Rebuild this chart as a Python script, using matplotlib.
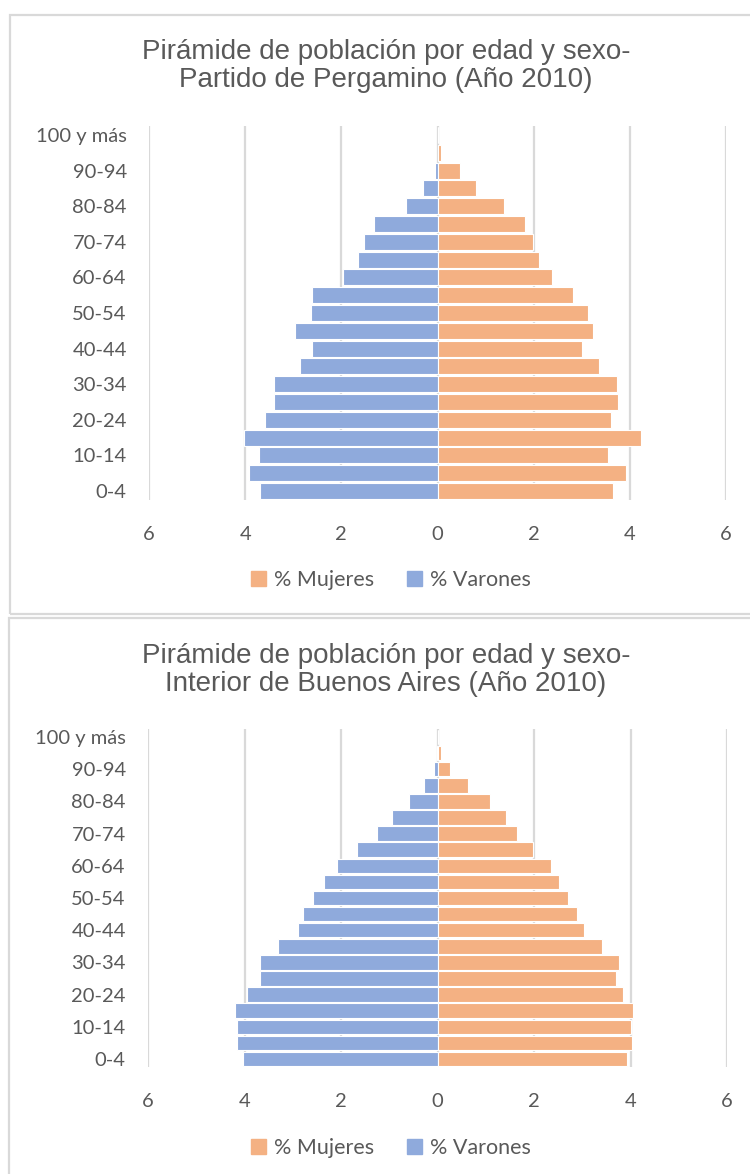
import matplotlib
matplotlib.use("Agg")
import matplotlib.pyplot as plt
from matplotlib.patches import Rectangle, Patch

W, H = 750, 1174

grupos = ["0-4", "5-9", "10-14", "15-19", "20-24", "25-29", "30-34", "35-39",
          "40-44", "45-49", "50-54", "55-59", "60-64", "65-69", "70-74",
          "75-79", "80-84", "85-89", "90-94", "95-99", "100 y más"]

# Partido de Pergamino
varones_perg = [3.69, 3.93, 3.71, 4.02, 3.58, 3.39, 3.39, 2.85, 2.61, 2.96, 2.64,
                2.61, 1.96, 1.66, 1.52, 1.33, 0.65, 0.30, 0.06, 0.0, 0.0]
mujeres_perg = [3.65, 3.92, 3.55, 4.24, 3.61, 3.75, 3.73, 3.35, 3.01, 3.23, 3.12,
                2.82, 2.38, 2.11, 1.98, 1.82, 1.39, 0.80, 0.46, 0.08, 0.01]

# Interior de Buenos Aires
varones_int = [4.04, 4.16, 4.16, 4.19, 3.95, 3.67, 3.67, 3.30, 2.90, 2.78, 2.57,
               2.35, 2.08, 1.66, 1.26, 0.94, 0.60, 0.28, 0.07, 0.01, 0.0]
mujeres_int = [3.93, 4.03, 4.01, 4.06, 3.85, 3.69, 3.76, 3.40, 3.03, 2.89, 2.70,
               2.52, 2.35, 1.97, 1.65, 1.42, 1.09, 0.63, 0.25, 0.07, 0.02]

titulos = ["Pirámide de población por edad y sexo-\nPartido de Pergamino (Año 2010)",
           "Pirámide de población por edad y sexo-\nInterior de Buenos Aires (Año 2010)"]

x_ticks = [-6, -4, -2, 0, 2, 4, 6]
x_labels = ["6", "4", "2", "0", "2", "4", "6"]

NARANJA = "#F4B183"
AZUL = "#8FAADC"
GRIS = "#595959"
GRILLA = "#D9D9D9"
FUENTE = ["Lato", "DejaVu Sans"]


def rect(l, t, r, b):
    return [l / W, 1 - b / H, (r - l) / W, (b - t) / H]


def piramide(fig, caja, ejes, titulo_y, leyenda_y, titulo, varones, mujeres):
    # marco gris del grafico
    l, t, r, b = caja
    fig.patches.append(Rectangle((l / W, 1 - b / H), (r - l) / W, (b - t) / H,
                                 transform=fig.transFigure, fill=False,
                                 edgecolor=GRILLA, linewidth=1.6))
    fig.text(386 / W, 1 - titulo_y / H, titulo, ha="center", va="center",
             fontsize=20, color=GRIS, family=["Liberation Sans", "DejaVu Sans"],
             linespacing=1.12)

    ax = fig.add_axes(rect(*ejes))
    y = range(len(grupos))
    ax.barh(y, [-v for v in varones], height=0.9, color=AZUL,
            edgecolor="white", linewidth=0.8, zorder=3)
    ax.barh(y, mujeres, height=0.9, color=NARANJA,
            edgecolor="white", linewidth=0.8, zorder=3)

    ax.set_xlim(-6, 6)
    ax.set_ylim(-0.5, len(grupos) - 0.5)
    ax.set_xticks(x_ticks)
    ax.set_xticklabels(x_labels)
    ax.set_yticks(range(0, len(grupos), 2))
    ax.set_yticklabels(grupos[::2])
    ax.grid(axis="x", color=GRILLA, linewidth=1.6, zorder=0)
    ax.set_axisbelow(True)
    for s in ax.spines.values():
        s.set_visible(False)
    ax.tick_params(length=0, labelsize=14.5, labelcolor=GRIS)
    ax.tick_params(axis="x", pad=19)
    ax.tick_params(axis="y", pad=16)
    for lab in ax.get_xticklabels() + ax.get_yticklabels():
        lab.set_family(FUENTE)

    handles = [Patch(color=NARANJA, label="% Mujeres"),
               Patch(color=AZUL, label="% Varones")]
    ax.legend(handles=handles, loc="center", ncol=2, frameon=False,
              bbox_to_anchor=(391 / W, 1 - leyenda_y / H),
              bbox_transform=fig.transFigure, prop={"family": FUENTE, "size": 15.5},
              labelcolor=GRIS, handlelength=0.7, handleheight=0.7,
              handletextpad=0.4, columnspacing=1.5)
    return ax


fig = plt.figure(figsize=(W / 100, H / 100), dpi=100)
fig.patch.set_facecolor("white")

piramide(fig, (10, 15, 770, 614), (149, 126, 726, 500), 66, 580,
         titulos[0], varones_perg, mujeres_perg)
piramide(fig, (9, 618, 770, 1190), (148, 729, 727, 1067), 670, 1148,
         titulos[1], varones_int, mujeres_int)

fig.savefig("out.png", dpi=100)
